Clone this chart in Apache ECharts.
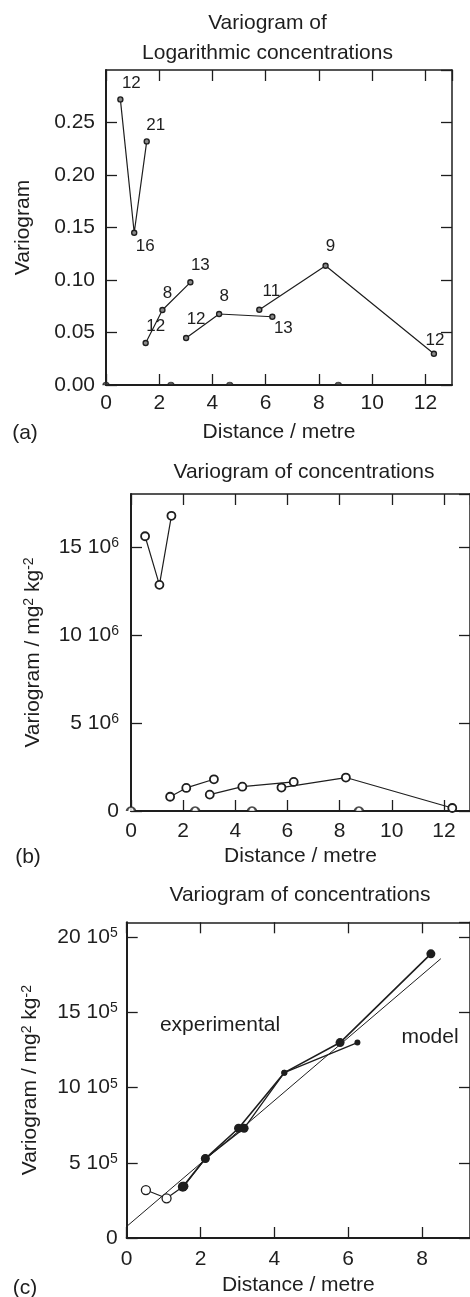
<!DOCTYPE html>
<html><head><meta charset="utf-8">
<script src="https://cdn.jsdelivr.net/npm/echarts@6/dist/echarts.min.js"></script>
<style>html,body{margin:0;padding:0;background:#fff}#c{width:470px;height:1297px}</style>
</head><body><div id="c"></div>
<script>
// ---------- Panel (a): variogram of logarithmic concentrations ----------
const aS1X = [0.54, 1.06, 1.53];
const aS1Y = [0.272, 0.145, 0.232];
const aS1N = ['12', '16', '21'];
const aS2X = [1.49, 2.12, 3.17];
const aS2Y = [0.040, 0.0714, 0.0978];
const aS2N = ['12', '8', '13'];
const aS3X = [3.01, 4.25, 6.25];
const aS3Y = [0.0448, 0.0676, 0.065];
const aS3N = ['12', '8', '13'];
const aS4X = [5.76, 8.25, 12.32];
const aS4Y = [0.0717, 0.1136, 0.0298];
const aS4N = ['11', '9', '12'];
const aZeroX = [0, 2.44, 4.65, 8.73];
const aYTicks = ['0.00', '0.05', '0.10', '0.15', '0.20', '0.25'];

// ---------- Panel (b): variogram of concentrations ----------
const bS1X = [0.54, 1.09, 1.55];
const bS1Y = [15.6e6, 12.84e6, 16.76e6];
const bS2X = [1.50, 2.12, 3.18];
const bS2Y = [0.81e6, 1.31e6, 1.80e6];
const bS3X = [3.02, 4.27, 6.24];
const bS3Y = [0.93e6, 1.38e6, 1.65e6];
const bS4X = [5.77, 8.24, 12.32];
const bS4Y = [1.33e6, 1.90e6, 0.17e6];
const bZeroX = [0, 2.46, 4.64, 8.74];

// ---------- Panel (c): experimental and model ----------
const cOpenX = [0.52, 1.08, 1.52];
const cOpenY = [3.19e5, 2.64e5, 3.41e5];
const cE1X = [1.52, 2.13, 3.03, 4.27, 5.78, 8.24];
const cE1Y = [3.41e5, 5.28e5, 7.30e5, 11.0e5, 13.0e5, 18.9e5];
const cE2X = [1.55, 2.13, 3.18, 4.27, 6.25];
const cE2Y = [3.45e5, 5.28e5, 7.30e5, 11.0e5, 13.0e5];
const cModelX = [0, 8.51];
const cModelY = [0.77e5, 18.58e5];

// ---------- styles (not data) ----------
const FONT = "'Liberation Sans', Arial, Helvetica, sans-serif";
const INK = '#1e1e1e';
const FS = 21;
const aOff1 = [[11, -16], [11, 14], [9, -16]];
const aOff2 = [[10, -17], [5, -17], [10, -17]];
const aOff3 = [[10, -19], [5, -18], [11, 12]];
const aOff4 = [[12, -18], [5, -19], [1, -13]];
const cE1Size = [10, 9, 9, 6, 9, 9];
const cE2Size = [9, 8, 9, 6, 6];
const cOpenSize = [9, 9, 0];

const zip = (xs, ys) => xs.map((x, i) => [x, ys[i]]);

const chart = echarts.init(document.getElementById('c'), null, {renderer: 'canvas'});

const grids = [
  {left: 106, top: 70, width: 346, height: 315},
  {left: 131, top: 494, width: 347, height: 317},
  {left: 126.7, top: 922.3, width: 346, height: 317.7}
];

const supRich = {sup: {fontSize: 14, fontFamily: FONT, color: INK, verticalAlign: 'top', padding: [0, 0, 8, 0]}};

function xPair(gi, max, labelMargin, nameGap) {
  const base = {
    type: 'value', gridIndex: gi, min: 0, max: max, interval: 2,
    splitLine: {show: false},
    axisTick: {show: true, inside: true, length: 11, lineStyle: {color: INK, width: 1.3}},
  };
  return [
    Object.assign({}, base, {
      position: 'bottom',
      axisLine: {show: true, onZero: false, lineStyle: {color: INK, width: 2}},
      axisLabel: {show: true, margin: labelMargin, fontSize: FS, fontFamily: FONT, color: INK, showMaxLabel: false, formatter: v => String(v)},
      name: 'Distance / metre', nameLocation: 'middle', nameGap: nameGap,
      nameTextStyle: {fontSize: FS, fontFamily: FONT, color: INK}
    }),
    Object.assign({}, base, {
      position: 'top',
      axisLine: {show: true, onZero: false, lineStyle: {color: INK, width: 1.5}},
      axisLabel: {show: false}
    })
  ];
}

function yPair(gi, max, interval, fmt, labelMargin, name, nameGap) {
  const base = {
    type: 'value', gridIndex: gi, min: 0, max: max, interval: interval,
    splitLine: {show: false},
    axisTick: {show: true, inside: true, length: 11, lineStyle: {color: INK, width: 1.3}},
  };
  return [
    Object.assign({}, base, {
      position: 'left',
      axisLine: {show: true, onZero: false, lineStyle: {color: INK, width: 2}},
      axisLabel: {show: true, margin: labelMargin, fontSize: FS, fontFamily: FONT, color: INK, showMaxLabel: false, formatter: fmt, rich: supRich},
      name: name, nameLocation: 'middle', nameGap: nameGap,
      nameTextStyle: {fontSize: FS, fontFamily: FONT, color: INK, rich: supRich}
    }),
    Object.assign({}, base, {
      position: 'right',
      axisLine: {show: true, onZero: false, lineStyle: {color: INK, width: 1.5}},
      axisLabel: {show: false}
    })
  ];
}

const xAxes = [].concat(
  xPair(0, 13, 8, 37),
  xPair(1, 13, 10, 35),
  xPair(2, 9.3, 11, 37)
);
const yAxes = [].concat(
  yPair(0, 0.3, 0.05, v => aYTicks[Math.round(v / 0.05)] || '', 11, 'Variogram', 72),
  yPair(1, 18e6, 5e6, v => v === 0 ? '0' : (v / 1e6) + ' 10{sup|6}', 12, 'Variogram / mg{sup|2} kg{sup|-2}', 87),
  yPair(2, 21e5, 5e5, v => v === 0 ? '0' : (v / 1e5) + ' 10{sup|5}', 9, 'Variogram / mg{sup|2} kg{sup|-2}', 85)
);

function aLine(xs, ys, ns, offs) {
  return {
    type: 'line', xAxisIndex: 0, yAxisIndex: 0, animation: false,
    showSymbol: true, showAllSymbol: true, symbol: 'circle', symbolSize: 5,
    lineStyle: {color: INK, width: 1.2},
    itemStyle: {color: '#8a8a8a', borderColor: INK, borderWidth: 1.4},
    data: xs.map((x, i) => ({
      value: [x, ys[i]],
      label: {show: true, position: 'inside', offset: offs[i], formatter: ns[i], fontSize: 17, fontFamily: FONT, color: INK}
    }))
  };
}

function bLine(xs, ys) {
  return {
    type: 'line', xAxisIndex: 2, yAxisIndex: 2, animation: false,
    showSymbol: true, showAllSymbol: true, symbol: 'circle', symbolSize: 8,
    lineStyle: {color: INK, width: 1.2},
    itemStyle: {color: '#fff', borderColor: INK, borderWidth: 1.8},
    data: zip(xs, ys)
  };
}

const halfDot = 'path://M0,10 A10,10 0 0 1 20,10 Z';

const series = [
  aLine(aS1X, aS1Y, aS1N, aOff1),
  aLine(aS2X, aS2Y, aS2N, aOff2),
  aLine(aS3X, aS3Y, aS3N, aOff3),
  aLine(aS4X, aS4Y, aS4N, aOff4),
  {
    type: 'scatter', xAxisIndex: 0, yAxisIndex: 0, animation: false,
    symbol: halfDot, symbolSize: [6, 3], symbolOffset: [0, -1.5],
    itemStyle: {color: '#333', borderColor: INK, borderWidth: 1},
    data: aZeroX.map(x => [x, 0])
  },
  bLine(bS1X, bS1Y),
  bLine(bS2X, bS2Y),
  bLine(bS3X, bS3Y),
  bLine(bS4X, bS4Y),
  {
    type: 'scatter', xAxisIndex: 2, yAxisIndex: 2, animation: false,
    symbol: 'path://M0,10 A10,10 0 0 1 20,10', symbolSize: [8, 4], symbolOffset: [0, -2],
    itemStyle: {color: '#fff', borderColor: INK, borderWidth: 1.8},
    data: bZeroX.map(x => [x, 0])
  },
  {
    type: 'line', xAxisIndex: 4, yAxisIndex: 4, animation: false, showSymbol: false,
    lineStyle: {color: INK, width: 1},
    data: zip(cModelX, cModelY)
  },
  {
    type: 'line', xAxisIndex: 4, yAxisIndex: 4, animation: false,
    showSymbol: true, showAllSymbol: true, symbol: 'circle',
    lineStyle: {color: INK, width: 1.3},
    itemStyle: {color: INK, borderColor: INK, borderWidth: 0},
    data: cE2X.map((x, i) => ({value: [x, cE2Y[i]], symbolSize: cE2Size[i]}))
  },
  {
    type: 'line', xAxisIndex: 4, yAxisIndex: 4, animation: false,
    showSymbol: true, showAllSymbol: true, symbol: 'circle',
    lineStyle: {color: INK, width: 1.6},
    itemStyle: {color: INK, borderColor: INK, borderWidth: 0},
    data: cE1X.map((x, i) => ({value: [x, cE1Y[i]], symbolSize: cE1Size[i]}))
  },
  {
    type: 'line', xAxisIndex: 4, yAxisIndex: 4, animation: false,
    showSymbol: true, showAllSymbol: true, symbol: 'circle',
    lineStyle: {color: INK, width: 1.2},
    itemStyle: {color: '#fff', borderColor: INK, borderWidth: 1.3},
    data: cOpenX.map((x, i) => ({value: [x, cOpenY[i]], symbolSize: cOpenSize[i]}))
  }
];

function txt(x, y, s, size) {
  return {
    type: 'text', x: x, y: y, z: 10,
    style: {text: s, fontSize: size || FS, fontFamily: FONT, fill: INK,
      textAlign: 'center', textVerticalAlign: 'middle', align: 'center', verticalAlign: 'middle'}
  };
}

chart.setOption({
  backgroundColor: '#fff',
  animation: false,
  grid: grids,
  xAxis: xAxes,
  yAxis: yAxes,
  series: series,
  graphic: [
    txt(267.5, 23, 'Variogram of'),
    txt(267.5, 53, 'Logarithmic concentrations'),
    txt(25, 433, '(a)'),
    txt(304, 472, 'Variogram of concentrations'),
    txt(28, 857, '(b)'),
    txt(300, 895, 'Variogram of concentrations'),
    txt(25, 1288, '(c)'),
    txt(220, 1025, 'experimental'),
    txt(430, 1037, 'model')
  ]
});
</script>
</body></html>
